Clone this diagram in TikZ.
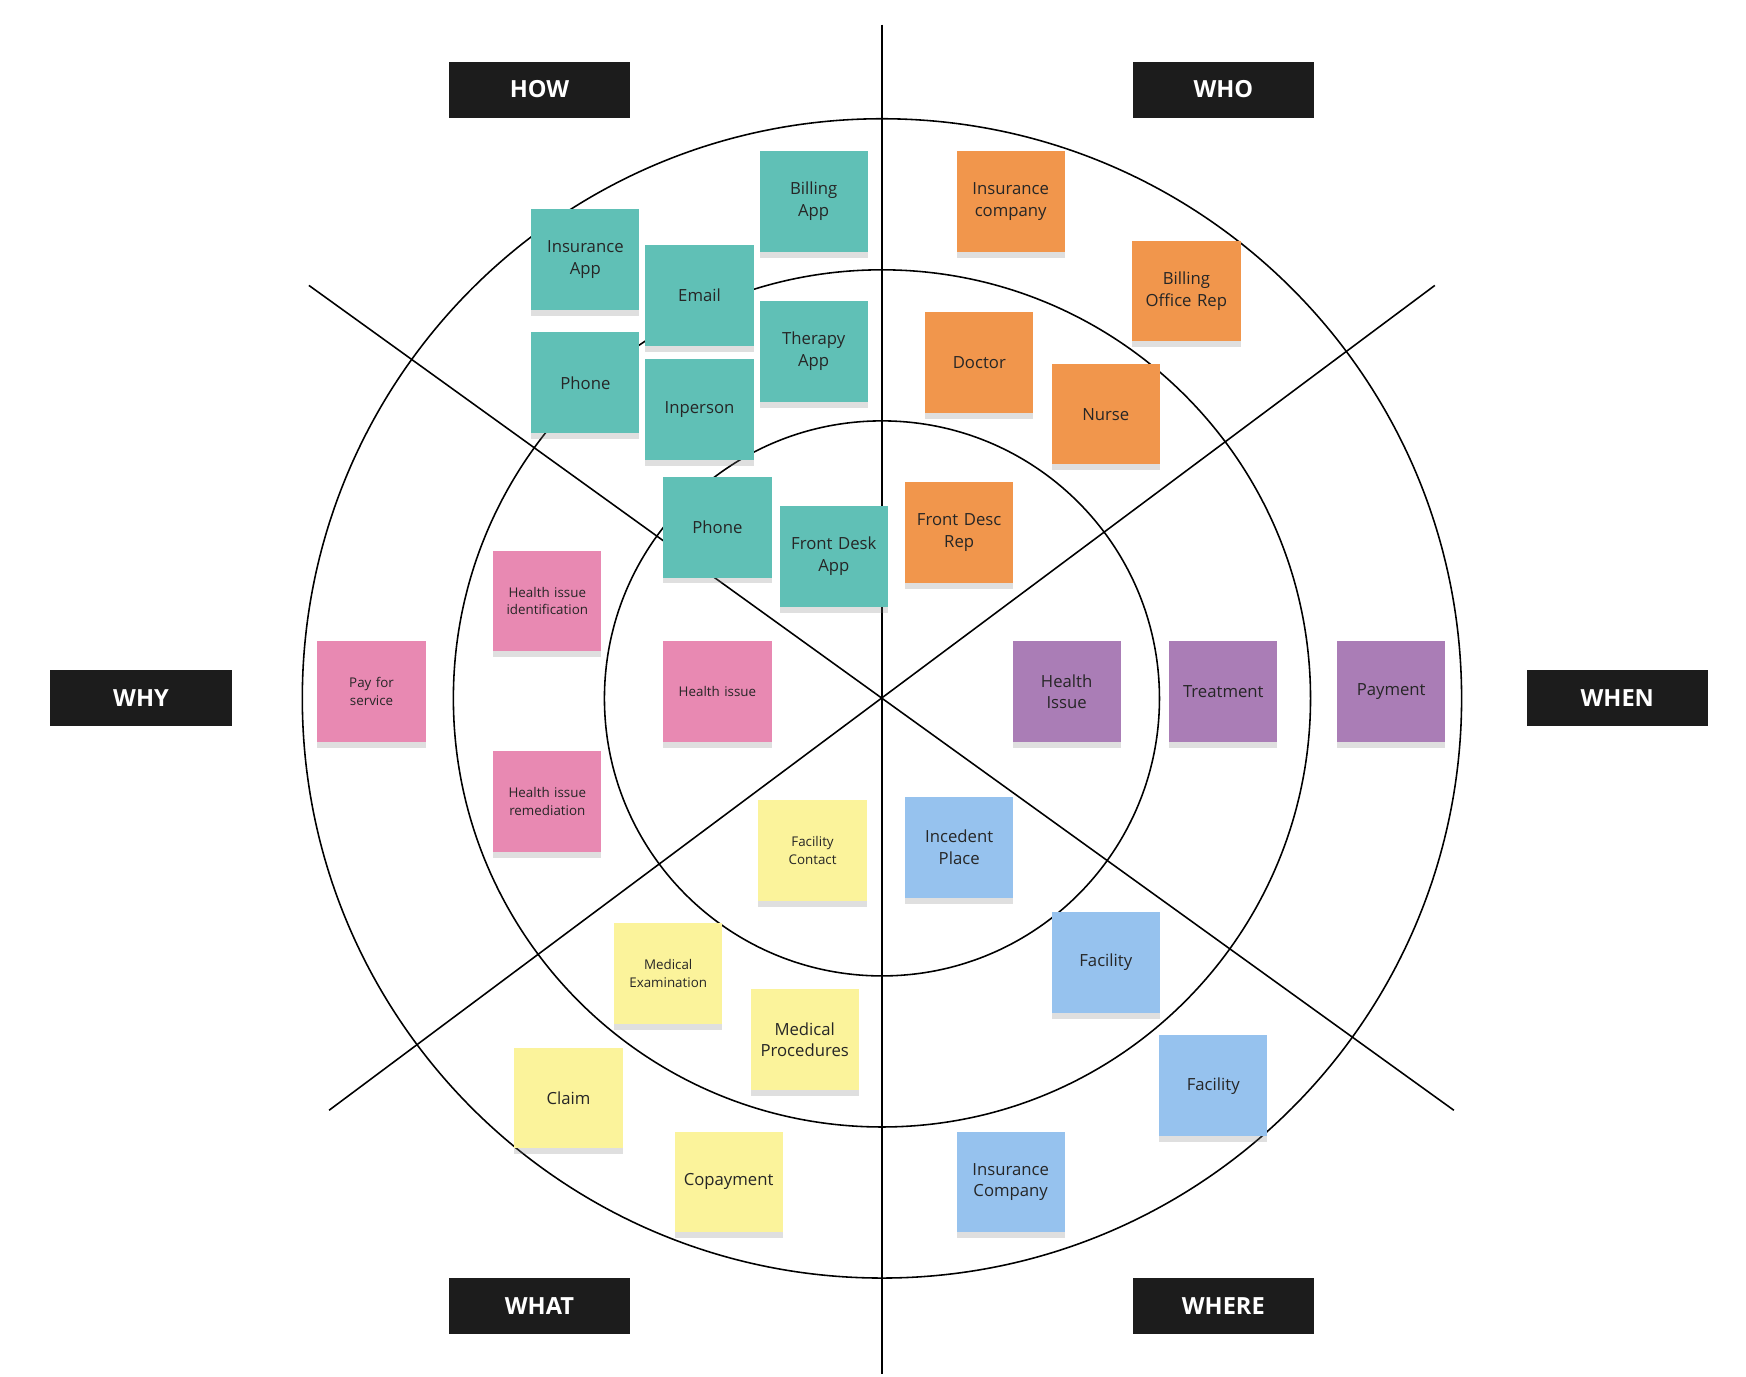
\documentclass[tikz,border=0pt]{standalone}
\usepackage{fontspec}
\setmainfont{Open Sans}
\usetikzlibrary{shadows}
\definecolor{tealnote}{RGB}{96,192,182}
\definecolor{orangenote}{RGB}{241,150,76}
\definecolor{pinknote}{RGB}{232,137,178}
\definecolor{purplenote}{RGB}{170,125,182}
\definecolor{yellownote}{RGB}{251,243,155}
\definecolor{bluenote}{RGB}{150,194,238}
\definecolor{labelbg}{RGB}{28,28,28}
\tikzstyle{note}=[minimum width=1.8cm, minimum height=1.8cm, text width=1.7cm,
  align=center, font=\fontsize{8.5}{11}\selectfont, text=black!85,
  drop shadow={opacity=0.25, shadow xshift=0pt, shadow yshift=-3pt}]
\tikzstyle{smallnote}=[note, font=\fontsize{6.8}{9}\selectfont]
\tikzstyle{heading}=[fill=labelbg, minimum width=3.24cm, minimum height=1cm,
  text=white, font=\fontsize{12}{14}\selectfont\bfseries]
\tikzstyle{ring}=[draw, line width=0.8pt]
\begin{document}
\begin{tikzpicture}[x=0.02cm, y=-0.02cm]
  \useasboundingbox (0,0) rectangle (1560,1230);

  % Rings and sector lines
  \coordinate (c) at (788,624);
  \draw[ring] (c) circle (10.36cm);
  \draw[ring] (c) circle (7.66cm);
  \draw[ring] (c) circle (4.96cm);
  \coordinate (vt) at (788,22);
  \coordinate (vb) at (788,1228);
  \coordinate (d1) at (276,255);
  \coordinate (d2) at (1299,992);
  \coordinate (d3) at (1282,255);
  \coordinate (d4) at (294,992);
  \draw[ring] (vt) -- (vb);
  \draw[ring] (d1) -- (d2);
  \draw[ring] (d3) -- (d4);

  % Headings
  \path (482,80) node (how) [heading] {HOW};
  \path (1093,80) node (who) [heading] {WHO};
  \path (126,624) node (why) [heading] {WHY};
  \path (1445,624) node (when) [heading] {WHEN};
  \path (482,1167) node (what) [heading] {WHAT};
  \path (1093,1167) node (where) [heading] {WHERE};

  % How
  \path (727,180) node (h1) [note, fill=tealnote] {Billing\\App};
  \path (523,232) node (h2) [note, fill=tealnote] {Insurance\\App};
  \path (625,264) node (h3) [note, fill=tealnote] {Email};
  \path (727,314) node (h4) [note, fill=tealnote] {Therapy\\App};
  \path (523,342) node (h5) [note, fill=tealnote] {Phone};
  \path (625,366) node (h6) [note, fill=tealnote] {Inperson};
  \path (641,471) node (h7) [note, fill=tealnote] {Phone};
  \path (745,497) node (h8) [note, fill=tealnote] {Front Desk\\App};

  % Who
  \path (903,180) node (w1) [note, fill=orangenote] {Insurance\\company};
  \path (1060,260) node (w2) [note, fill=orangenote] {Billing\\Office Rep};
  \path (875,324) node (w3) [note, fill=orangenote] {Doctor};
  \path (988,370) node (w4) [note, fill=orangenote] {Nurse};
  \path (857,476) node (w5) [note, fill=orangenote] {Front Desc\\Rep};

  % Why
  \path (489,537) node (y1) [smallnote, fill=pinknote] {Health issue\\identification};
  \path (332,618) node (y2) [smallnote, fill=pinknote] {Pay for\\service};
  \path (641,618) node (y3) [smallnote, fill=pinknote] {Health issue};
  \path (489,716) node (y4) [smallnote, fill=pinknote] {Health issue\\remediation};

  % When
  \path (953,618) node (n1) [note, fill=purplenote] {Health\\Issue};
  \path (1093,618) node (n2) [note, fill=purplenote] {Treatment};
  \path (1243,618) node (n3) [note, fill=purplenote] {Payment};

  % What
  \path (726,760) node (t1) [smallnote, fill=yellownote] {Facility\\Contact};
  \path (597,870) node (t2) [smallnote, fill=yellownote] {Medical\\Examination};
  \path (719,929) node (t3) [note, fill=yellownote] {Medical\\Procedures};
  \path (508,981) node (t4) [note, fill=yellownote] {Claim};
  \path (651,1056) node (t5) [note, fill=yellownote] {Copayment};

  % Where
  \path (857,757) node (r1) [note, fill=bluenote] {Incedent\\Place};
  \path (988,860) node (r2) [note, fill=bluenote] {Facility};
  \path (1084,970) node (r3) [note, fill=bluenote] {Facility};
  \path (903,1056) node (r4) [note, fill=bluenote] {Insurance\\Company};
\end{tikzpicture}
\end{document}
